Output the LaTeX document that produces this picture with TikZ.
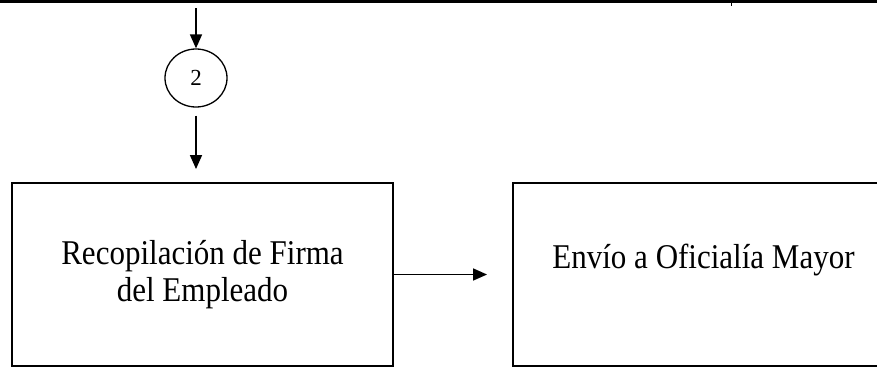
\documentclass[tikz,border=0pt]{standalone}
\usepackage{fontspec}
\setmainfont{Liberation Serif}
\usetikzlibrary{arrows.meta,shapes.geometric}
% slightly tall lettering for the box labels
\newcommand{\talltext}[1]{\scalebox{1}[1.12]{#1}}
\begin{document}
\begin{tikzpicture}[x=1pt,y=-1pt,
  flow/.style={line width=1.6pt,-{Triangle[length=14pt,width=12pt]}},
  procbox/.style={draw,line width=1.9pt,rectangle,minimum width=381pt,minimum height=183pt,
    inner sep=0pt,align=center,font=\fontsize{31}{37}\selectfont},
  connector/.style={draw,line width=1.3pt,ellipse,minimum width=62pt,minimum height=58pt,
    inner sep=0pt,font=\fontsize{23}{26}\selectfont}]
  \useasboundingbox (0,0) rectangle (877,367);
  \clip (0,0) rectangle (877,367);
  % page rule at the top
  \draw[line width=3pt] (0,1.5) -- (877,1.5);
  \draw[line width=0.8pt] (731,3) -- (731,6);
  % off-page connector
  \node[connector] (c2) at (196,78) {2};
  \coordinate (in) at (196,8);
  % process boxes
  \node[procbox] (box1) at (202.5,274.5) {\talltext{Recopilación de Firma}\\\talltext{del Empleado}};
  \node[procbox] (box2) at (703.5,274.5) {\talltext{Envío a Oficialía Mayor}\\\mbox{}};
  % connectors
  \draw[flow] (in) -- (c2.north);
  \draw[flow,shorten <=8pt,shorten >=13pt] (c2.south) -- (c2.south |- box1.north);
  \draw[flow,shorten >=25pt] (box1.east) -- (box2.west);
\end{tikzpicture}
\end{document}
